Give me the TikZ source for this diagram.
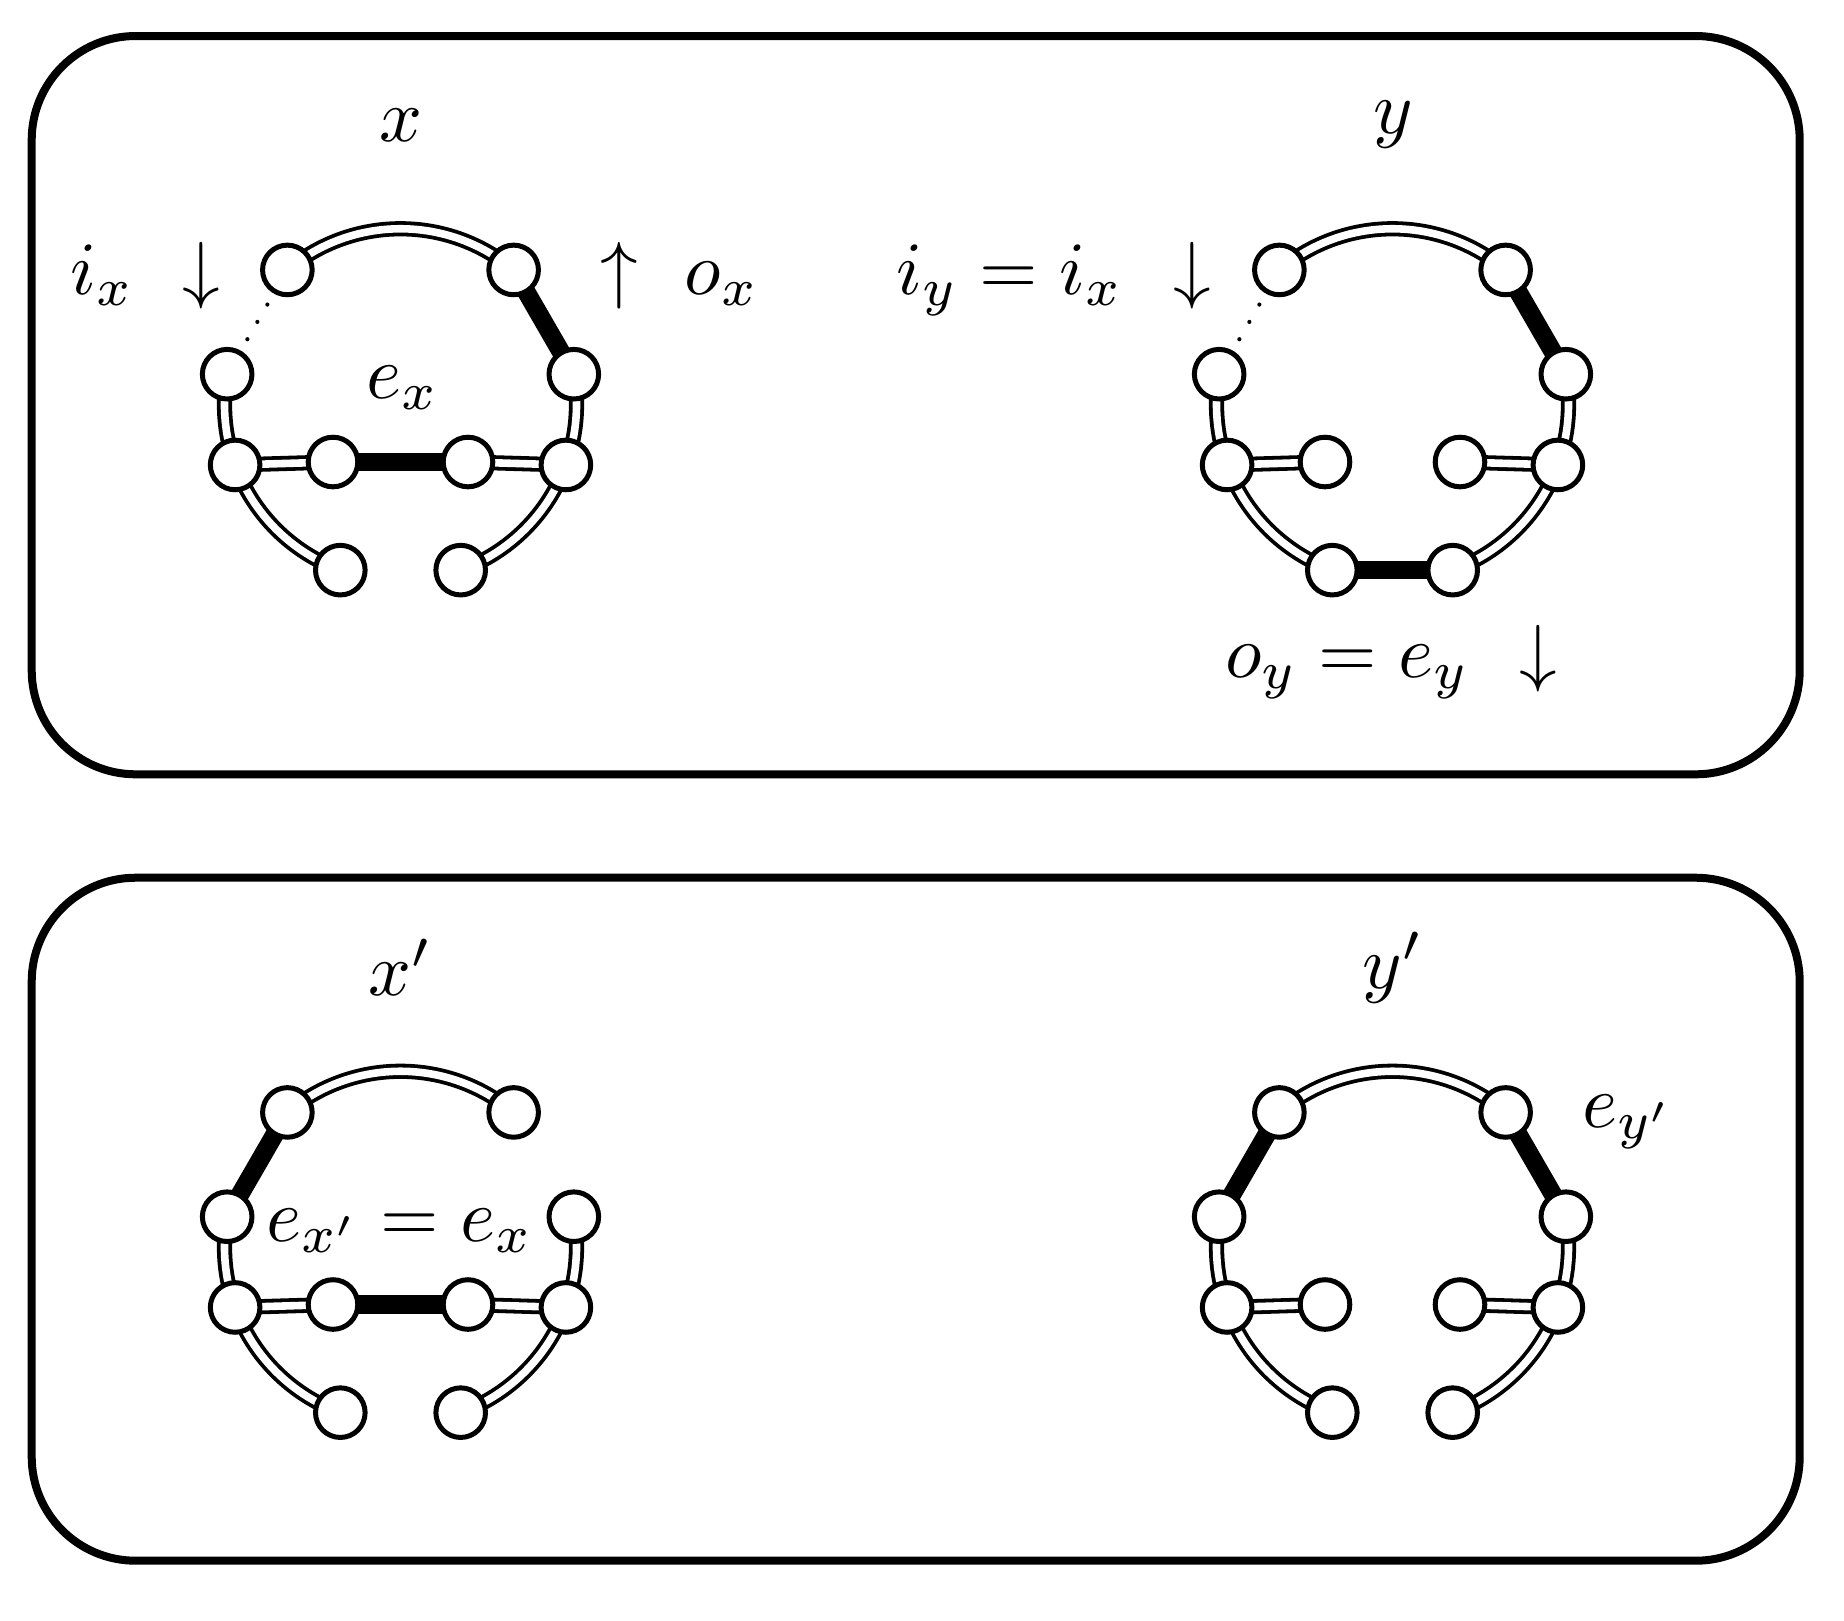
\documentclass[tikz,border=0pt]{standalone}
\pgfdeclarelayer{bg}
\pgfsetlayers{bg,main}
\tikzset{
 vtx/.style={circle, draw, fill=white, line width=1.25pt, minimum size=12.4pt, inner sep=0pt},
 dbl/.style={line width=0.95pt, double=white, double distance=1.9pt},
 thk/.style={line width=4.6pt},
 dotedge/.style={line width=1.05pt, line cap=round, dash pattern=on 0pt off 5pt},
 lbl/.style={font=\normalsize, scale=1.88, transform shape, inner sep=0pt, anchor=base},
 clbl/.style={font=\normalsize, scale=1.88, transform shape, inner sep=0pt, anchor=center},
 frame/.style={line width=2pt, rounded corners=26pt},
}
\newcommand\ringnodes[3]{%
 \begin{scope}[shift={(#2,#3)}]
  \node[vtx] (#1A) at (-130:176) {};
  \node[vtx] (#1B) at (-50:176) {};
  \node[vtx] (#1C) at (-170:176) {};
  \node[vtx] (#1D) at (-10:176) {};
  \node[vtx] (#1E) at (160:176) {};
  \node[vtx] (#1H) at (20:176) {};
  \node[vtx] (#1I) at (110:176) {};
  \node[vtx] (#1J) at (70:176) {};
  \node[vtx] (#1F) at (-67.5,57.25) {};
  \node[vtx] (#1G) at (67.5,57.25) {};
 \end{scope}}
\newcommand\ringdbl[1]{%
 \draw[dbl] (#1A.center) arc[start angle=-130,end angle=-50,radius=176];
 \draw[dbl] (#1C.center) arc[start angle=-170,end angle=-200,radius=176];
 \draw[dbl] (#1D.center) arc[start angle=-10,end angle=20,radius=176];
 \draw[dbl] (#1E.center) arc[start angle=160,end angle=110,radius=176];
 \draw[dbl] (#1H.center) arc[start angle=20,end angle=70,radius=176];
 \draw[dbl] (#1E.center) -- (#1F.center);
 \draw[dbl] (#1G.center) -- (#1H.center);}
\begin{document}
\begin{tikzpicture}[x=0.25pt, y=-0.25pt]
\useasboundingbox (0,0) rectangle (1844,1620);
% frames
\draw[frame] (31.7,36) rectangle (1799.7,774.3);
\draw[frame] (31.7,877.7) rectangle (1799.7,1560.7);
% graphs
\ringnodes{a}{400.5}{404.75}
\ringnodes{b}{1392.5}{404.75}
\ringnodes{c}{400.5}{1247.25}
\ringnodes{d}{1392.5}{1247.25}
\begin{pgfonlayer}{bg}
 % x
 \ringdbl{a}
 \draw[thk] (aB.center) -- (aD.center);
 \draw[thk] (aF.center) -- (aG.center);
 \draw[dotedge] (aA.center) -- (aC.center);
 % y
 \ringdbl{b}
 \draw[thk] (bB.center) -- (bD.center);
 \draw[thk] (bI.center) -- (bJ.center);
 \draw[dotedge] (bA.center) -- (bC.center);
 % x'
 \ringdbl{c}
 \draw[thk] (cA.center) -- (cC.center);
 \draw[thk] (cF.center) -- (cG.center);
 % y'
 \ringdbl{d}
 \draw[thk] (dA.center) -- (dC.center);
 \draw[thk] (dB.center) -- (dD.center);
\end{pgfonlayer}
% labels, top box
\node[clbl] (lx) at (401,125) {$x$};
\node[lbl] (lix) at (102,294) {$i_x$};
\node[lbl] (dnx) at (201,294) {$\downarrow$};
\node[lbl] (upx) at (619,294) {$\uparrow$};
\node[lbl] (lox) at (722,294) {$o_x$};
\node[lbl] (lex) at (403,398) {$e_x$};
\node[clbl] (ly) at (1393,125) {$y$};
\node[lbl] (liy) at (1010,294) {$i_y = i_x$};
\node[lbl] (dny) at (1192,294) {$\downarrow$};
\node[lbl] (loy) at (1347.5,677) {$o_y = e_y$};
\node[lbl] (dnoy) at (1538,677) {$\downarrow$};
% labels, bottom box
\node[clbl] (lxp) at (401,967.5) {$x'$};
\node[lbl] (lexp) at (400,1241) {$e_{x'} = e_x$};
\node[clbl] (lyp) at (1393,967.5) {$y'$};
\node[lbl] (leyp) at (1628,1127) {$e_{y'}$};
\end{tikzpicture}
\end{document}
